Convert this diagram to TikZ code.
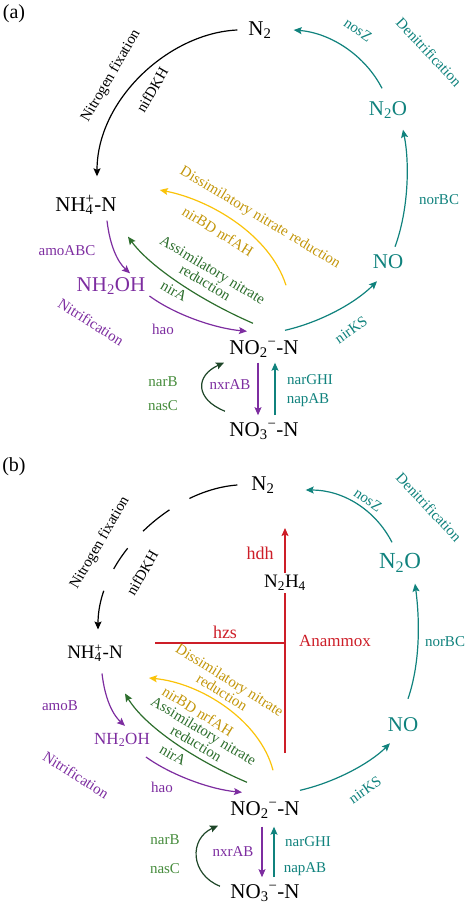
\documentclass[tikz,border=0pt]{standalone}
\usepackage{fontspec}
\setmainfont{Liberation Serif}
\usetikzlibrary{arrows.meta}
\definecolor{cteal}{RGB}{16,130,125}
\definecolor{cpurple}{RGB}{125,45,160}
\definecolor{cgreen}{RGB}{45,110,45}
\definecolor{cgreenl}{RGB}{70,140,60}
\definecolor{cgreend}{RGB}{30,70,40}
\definecolor{cyellow}{RGB}{250,195,10}
\definecolor{cgold}{RGB}{195,150,10}
\definecolor{cred}{RGB}{205,30,40}
\newcommand\subsup[2]{\rlap{\textsubscript{#1}}\textsuperscript{#2}}

\begin{document}
\begin{tikzpicture}[x=1pt,y=-1pt,
	species/.style={font=\fontsize{21}{24}\selectfont, inner sep=2pt},
	lbl/.style={font=\fontsize{15}{13}\selectfont, inner sep=0pt, align=center},
	redlbl/.style={font=\fontsize{18}{20}\selectfont, inner sep=0pt, text=cred},
	flow/.style={line width=1.2pt, -{Stealth[length=8pt,width=7pt,inset=1.5pt]}},
	]
	%%%%% START %%%%%
	\useasboundingbox (0,0) rectangle (474,907);
	
	%%%%% (a) %%%%%
	\node[font=\fontsize{20}{22}\selectfont] (tagA) at (14,14) {(a)};
	
	\node[species] (n2a) at (260,30) {N\textsubscript{2}};
	\node[species, text=cteal] (n2oa) at (388,110) {N\textsubscript{2}O};
	\node[species, text=cteal] (noa) at (388,262) {NO};
	\node[species] (no2a) at (264,349) {NO\textsubscript{2}\textsuperscript{−}-N};
	\node[species] (no3a) at (264,431) {NO\textsubscript{3}\textsuperscript{−}-N};
	\node[species] (nh4a) at (86,205) {NH\subsup{4}{+}-N};
	\node[species, text=cpurple] (nh2oha) at (111,286) {NH\textsubscript{2}OH};
	
	\draw[flow] ([xshift=-9pt]n2a.west) .. controls +(-68,3) and +(0,-77) .. ([shift={(11,-17)}]nh4a.north);
	\draw[flow, cteal] ([shift={(-6,-11)}]n2oa.north) .. controls +(-17,-33) and +(37,3) .. ([xshift=20pt]n2a.east);
	\draw[flow, cteal] ([shift={(7,-6)}]noa.north) .. controls +(13,-35) and +(7,35) .. ([shift={(15,9)}]n2oa.south);
	\draw[flow, cteal] ([shift={(21,-8)}]no2a.north) .. controls +(35,-8) and +(-22,22) .. ([shift={(-11,10)}]noa.south);
	\draw[flow, cpurple] ([shift={(21,4)}]nh4a.south) .. controls +(3,26) and +(-12,-11) .. ([shift={(19,-2)}]nh2oha.north);
	\draw[flow, cpurple] ([shift={(2,10)}]nh2oha.east) .. controls +(26,19) and +(-32,-3) .. ([shift={(-17,-7)}]no2a.north);
	\draw[flow, cgreen] ([shift={(-11,-15)}]no2a.north) .. controls +(-53,-23) and +(22,30) .. ([shift={(42,20)}]nh4a.south);
	\draw[flow, cyellow] ([shift={(22,-53)}]no2a.north) .. controls +(-16,-50) and +(51,10) .. ([shift={(41,-15)}]nh4a.east);
	\draw[flow, cpurple] ([shift={(-6,3)}]no2a.south) -- ([shift={(-6,-5)}]no3a.north);
	\draw[flow, cteal] ([shift={(11,-5)}]no3a.north) -- ([shift={(11,3)}]no2a.south);
	\draw[flow, cgreend] ([shift={(-39,-9)}]no3a.north) .. controls +(-30,-12) and +(-29,13) .. ([shift={(-40,3)}]no2a.south);
	
	\node[lbl, rotate=60] (fixa) at (111,76) {Nitrogen fixation};
	\node[lbl, rotate=60] (nifa) at (152,90) {nifDKH};
	\node[lbl, rotate=-35, text=cteal] (nosza) at (358,30) {nosZ};
	\node[lbl, rotate=-47, text=cteal] (denia) at (429,52) {Denitrification};
	\node[lbl, text=cteal] (norbca) at (439,200) {norBC};
	\node[lbl, rotate=-31, text=cgold] (dnraa) at (260,218) {Dissimilatory nitrate reduction};
	\node[lbl, rotate=-32, text=cgold] (nrfa) at (218,231) {nirBD nrfAH};
	\node[lbl, rotate=-31, text=cgreen] (anraa) at (209,276) {Assimilatory nitrate\\reduction};
	\node[lbl, rotate=-30, text=cgreen] (nira) at (174,291) {nirA};
	\node[lbl, text=cpurple] (amoa) at (67,251) {amoABC};
	\node[lbl, rotate=-32, text=cpurple] (nitra) at (91,322) {Nitrification};
	\node[lbl, text=cpurple] (haoa) at (163,329) {hao};
	\node[lbl, rotate=35, text=cteal] (nirksa) at (351,330) {nirKS};
	\node[lbl, text=cgreenl] (narba) at (163,382) {narB};
	\node[lbl, text=cgreenl] (nasca) at (163,406) {nasC};
	\node[lbl, text=cpurple] (nxra) at (230,385) {nxrAB};
	\node[lbl, text=cteal] (narga) at (310,380) {narGHI};
	\node[lbl, text=cteal] (napa) at (308,400) {napAB};
	
	%%%%% (b) %%%%%
	\node[font=\fontsize{20}{22}\selectfont] (tagB) at (14,467) {(b)};
	
	\node[species] (n2b) at (263,485) {N\textsubscript{2}};
	\node[species, text=cteal, font=\fontsize{23}{26}\selectfont] (n2ob) at (400,563) {N\textsubscript{2}O};
	\node[species, text=cteal] (nob) at (403,725) {NO};
	\node[species] (no2b) at (265,810) {NO\textsubscript{2}\textsuperscript{−}-N};
	\node[species] (no3b) at (265,893) {NO\textsubscript{3}\textsuperscript{−}-N};
	\node[species, font=\fontsize{19}{22}\selectfont] (nh4b) at (95,653) {NH\subsup{4}{+}-N};
	\node[species, text=cpurple, font=\fontsize{17}{20}\selectfont] (nh2ohb) at (122,740) {NH\textsubscript{2}OH};
	\node[species, font=\fontsize{19}{22}\selectfont] (n2h4b) at (285,583) {N\textsubscript{2}H\textsubscript{4}};
	
	\coordinate (anxbot) at (285,753);
	\coordinate (anxtop) at (285,528);
	\coordinate (hzsend) at (155,643);
	\coordinate (hzsjoin) at (anxbot |- hzsend);
	
	\draw[flow, dash pattern=on 50pt off 23pt on 34pt off 23pt on 25pt off 24pt on 80pt] ([xshift=-12pt]n2b.west) .. controls +(-68,5) and +(0,-70) .. ([shift={(3,-13)}]nh4b.north);
	\draw[flow, cteal] ([shift={(-8,-9)}]n2ob.north) .. controls +(-17,-33) and +(37,0) .. ([shift={(29,5)}]n2b.east);
	\draw[flow, cteal] ([shift={(5,-17)}]nob.north) .. controls +(12,-35) and +(5,38) .. ([shift={(15,9)}]n2ob.south);
	\draw[flow, cteal] ([shift={(35,-9)}]no2b.north) .. controls +(35,-8) and +(-20,20) .. ([shift={(-13,9)}]nob.south);
	\draw[flow, cpurple] ([shift={(7,10)}]nh4b.south) .. controls +(3,26) and +(-12,-11) .. ([shift={(3,-5)}]nh2ohb.north);
	\draw[flow, cpurple] ([shift={(-6,17)}]nh2ohb.east) .. controls +(25,18) and +(-32,-3) .. ([shift={(-23,-7)}]no2b.north);
	\draw[flow, cgreen] ([shift={(-18,-17)}]no2b.north) .. controls +(-52,-22) and +(20,33) .. ([shift={(30,30)}]nh4b.south);
	\draw[flow, cyellow] ([shift={(8,-29)}]no2b.north) .. controls +(-13,-50) and +(52,5) .. ([shift={(24,25)}]nh4b.east);
	\draw[line width=1.2pt, cred] (anxbot) -- (n2h4b.south);
	\draw[flow, cred] (n2h4b.north) -- (anxtop);
	\draw[line width=1.2pt, cred] (hzsend) -- (hzsjoin);
	\draw[flow, cpurple] ([shift={(-3,6)}]no2b.south) -- ([shift={(-3,-5)}]no3b.north);
	\draw[flow, cteal] ([shift={(9,-5)}]no3b.north) -- ([shift={(9,6)}]no2b.south);
	\draw[flow, cgreend] ([shift={(-45,4)}]no3b.north) .. controls +(-30,-12) and +(-29,13) .. ([shift={(-47,5)}]no2b.south);
	
	\node[lbl, rotate=60] (fixb) at (100,543) {Nitrogen fixation};
	\node[lbl, rotate=60] (nifb) at (142,573) {nifDKH};
	\node[lbl, rotate=-35, text=cteal] (noszb) at (368,500) {nosZ};
	\node[lbl, rotate=-47, text=cteal] (denib) at (429,507) {Denitrification};
	\node[redlbl] (hdhb) at (260,553) {hdh};
	\node[redlbl] (hzsb) at (225,632) {hzs};
	\node[redlbl, font=\fontsize{17}{20}\selectfont] (anammoxb) at (335,641) {Anammox};
	\node[lbl, text=cteal] (norbcb) at (445,642) {norBC};
	\node[lbl, rotate=-32, text=cgold] (dnrab) at (226,686) {Dissimilatory nitrate\\reduction};
	\node[lbl, rotate=-32, text=cgold] (nrfb) at (198,711) {nirBD nrfAH};
	\node[lbl, rotate=-31, text=cgreen] (anrab) at (200,737) {Assimilatory nitrate\\reduction};
	\node[lbl, rotate=-30, text=cgreen] (nirb) at (173,755) {nirA};
	\node[lbl, text=cpurple] (amob) at (60,706) {amoB};
	\node[lbl, rotate=-32, text=cpurple] (nitrb) at (76,775) {Nitrification};
	\node[lbl, text=cpurple] (haob) at (162,787) {hao};
	\node[lbl, rotate=35, text=cteal] (nirksb) at (365,790) {nirKS};
	\node[lbl, text=cgreenl] (narbb) at (165,840) {narB};
	\node[lbl, text=cgreenl] (nascb) at (165,869) {nasC};
	\node[lbl, text=cpurple] (nxrb) at (233,852) {nxrAB};
	\node[lbl, text=cteal] (nargb) at (308,842) {narGHI};
	\node[lbl, text=cteal] (napb) at (305,869) {napAB};
	
	%%%%% END %%%%%
\end{tikzpicture}
\end{document}
